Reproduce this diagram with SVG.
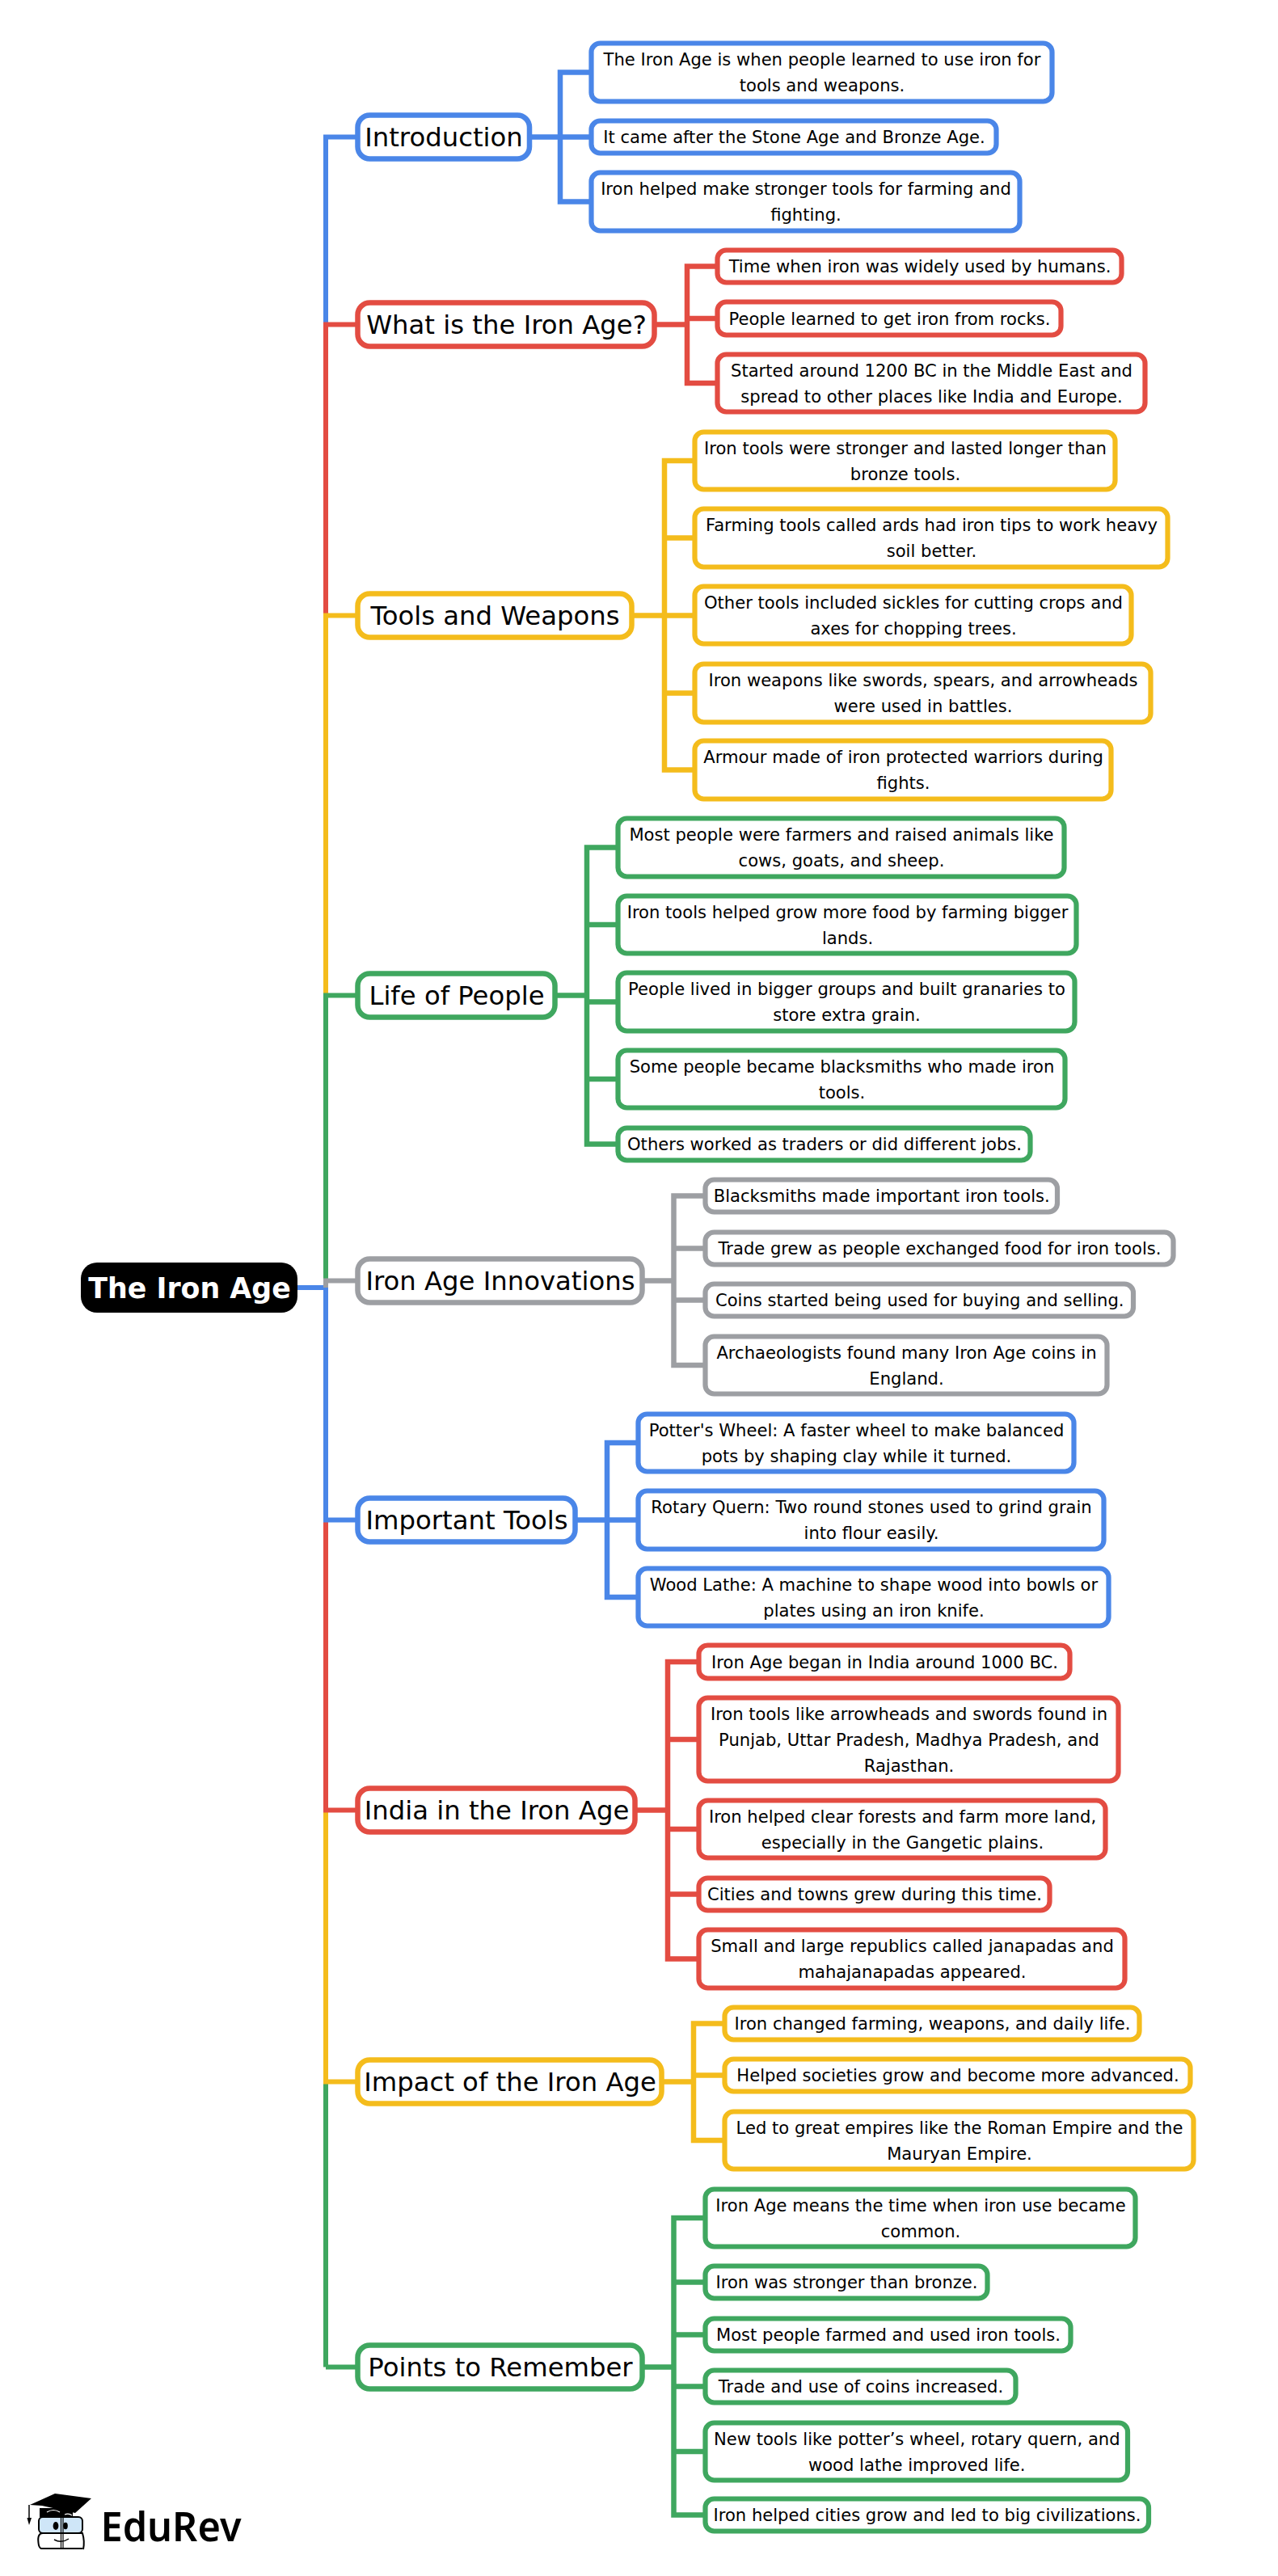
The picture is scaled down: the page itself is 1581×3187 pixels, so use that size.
<svg xmlns="http://www.w3.org/2000/svg" width="1581" height="3187" viewBox="0 0 1581 3187">
<style>
text{font-family:"DejaVu Sans",sans-serif;fill:#000;text-anchor:middle}
.leaf text{font-size:21.1px}
.topic text{font-size:32.3px}
.leaf rect{fill:#fff;stroke-width:6.2}
.topic rect{fill:#fff;stroke-width:6.5}
.c{fill:none;stroke-width:6.5}
.s{fill:none;stroke-width:6}
.b{stroke:#4a86e8}.r{stroke:#e34c42}.y{stroke:#f4bc1c}.g{stroke:#3fa75f}.k{stroke:#9d9fa3}
</style>
<rect width="1581" height="3187" fill="#fff"/>
<g id="connectors">
<path class="s b" d="M368 1593H403V169.5H441"/>
<path class="s r" d="M368 1593H403V401.5H441"/>
<path class="s y" d="M368 1593H403V761.5H441"/>
<path class="s g" d="M368 1593H403V1231.5H441"/>
<path class="s g" d="M403 2928.5V1593"/>
<path class="s g" d="M403 2928.5H441"/>
<path class="s y" d="M403 1593V2575.5H441"/>
<path class="s r" d="M403 1593V2239.5H441"/>
<path class="s b" d="M368 1593H403V1880.5H441"/>
<path class="s k" d="M403 1593V1584.5H441"/>
<path class="c b" d="M657 169.5H693V89.5H730M657 169.5H730M657 169.5H693V249.5H730"/>
<path class="c r" d="M812 401.5H850V329.5H886M812 401.5H850V394H886M812 401.5H850V474H886"/>
<path class="c y" d="M784 761.5H822V570H858M784 761.5H822V665.5H858M784 761.5H858M784 761.5H822V857.5H858M784 761.5H822V952.5H858"/>
<path class="c g" d="M689 1231.5H726V1048.5H763M689 1231.5H726V1144H763M689 1231.5H726V1239.5H763M689 1231.5H726V1335H763M689 1231.5H726V1415.5H763"/>
<path class="c k" d="M797 1584.5H833.5V1479.5H871M797 1584.5H833.5V1544.5H871M797 1584.5H833.5V1608.5H871M797 1584.5H833.5V1689H871"/>
<path class="c b" d="M714 1880.5H751V1785H788M714 1880.5H788M714 1880.5H751V1976H788"/>
<path class="c r" d="M788 2239.5H826V2056H863M788 2239.5H826V2152H863M788 2239.5H826V2263H863M788 2239.5H826V2343.5H863M788 2239.5H826V2423.5H863"/>
<path class="c y" d="M821 2575.5H858V2503.5H895M821 2575.5H858V2567.5H895M821 2575.5H858V2648H895"/>
<path class="c g" d="M797 2928.5H833.5V2744H871M797 2928.5H833.5V2823.5H871M797 2928.5H833.5V2888.5H871M797 2928.5H833.5V2952.5H871M797 2928.5H833.5V3033H871M797 2928.5H833.5V3111.5H871"/>
</g>
<g id="root"><rect x="100" y="1562" width="268" height="62" rx="20" fill="#000"/><text x="234.5" y="1606" font-size="34.8" font-weight="700" style="fill:#fff">The Iron Age</text></g>

<g id="introduction" class="topic"><rect class="b" x="442.5" y="142.5" width="212.5" height="54" rx="15"/><text x="549" y="180.5">Introduction</text></g>
<g id="n1-1" class="leaf"><rect class="b" x="731.5" y="53.5" width="570" height="72" rx="11"/><text x="1017" y="81">The Iron Age is when people learned to use iron for</text><text x="1017" y="113">tools and weapons.</text></g>
<g id="n1-2" class="leaf"><rect class="b" x="731.5" y="149.5" width="501" height="40" rx="11"/><text x="982.5" y="177">It came after the Stone Age and Bronze Age.</text></g>
<g id="n1-3" class="leaf"><rect class="b" x="731.5" y="213.5" width="530" height="72" rx="11"/><text x="997" y="241">Iron helped make stronger tools for farming and</text><text x="997" y="273">fighting.</text></g>

<g id="what" class="topic"><rect class="r" x="442.5" y="374.5" width="367" height="54" rx="15"/><text x="626.5" y="412.5">What is the Iron Age?</text></g>
<g id="n2-1" class="leaf"><rect class="r" x="887.5" y="309.5" width="500" height="40" rx="11"/><text x="1138" y="337">Time when iron was widely used by humans.</text></g>
<g id="n2-2" class="leaf"><rect class="r" x="887.5" y="373.5" width="425" height="41" rx="11"/><text x="1100.5" y="401.5">People learned to get iron from rocks.</text></g>
<g id="n2-3" class="leaf"><rect class="r" x="887.5" y="438.5" width="529" height="71" rx="11"/><text x="1152.5" y="465.5">Started around 1200 BC in the Middle East and</text><text x="1152.5" y="497.5">spread to other places like India and Europe.</text></g>

<g id="tools" class="topic"><rect class="y" x="442.5" y="734.5" width="339" height="54" rx="15"/><text x="612.5" y="772.5">Tools and Weapons</text></g>
<g id="n3-1" class="leaf"><rect class="y" x="859.5" y="534.5" width="520" height="71" rx="11"/><text x="1120" y="561.5">Iron tools were stronger and lasted longer than</text><text x="1120" y="593.5">bronze tools.</text></g>
<g id="n3-2" class="leaf"><rect class="y" x="859.5" y="629.5" width="585" height="72" rx="11"/><text x="1152.5" y="657">Farming tools called ards had iron tips to work heavy</text><text x="1152.5" y="689">soil better.</text></g>
<g id="n3-3" class="leaf"><rect class="y" x="859.5" y="725.5" width="540" height="71" rx="11"/><text x="1130" y="752.5">Other tools included sickles for cutting crops and</text><text x="1130" y="784.5">axes for chopping trees.</text></g>
<g id="n3-4" class="leaf"><rect class="y" x="859.5" y="821.5" width="564" height="72" rx="11"/><text x="1142" y="849">Iron weapons like swords, spears, and arrowheads</text><text x="1142" y="881">were used in battles.</text></g>
<g id="n3-5" class="leaf"><rect class="y" x="859.5" y="916.5" width="515" height="72" rx="11"/><text x="1117.5" y="944">Armour made of iron protected warriors during</text><text x="1117.5" y="976">fights.</text></g>

<g id="life" class="topic"><rect class="g" x="442.5" y="1204.5" width="244" height="54" rx="15"/><text x="565" y="1242.5">Life of People</text></g>
<g id="n4-1" class="leaf"><rect class="g" x="764.5" y="1012.5" width="552" height="72" rx="11"/><text x="1041" y="1040">Most people were farmers and raised animals like</text><text x="1041" y="1072">cows, goats, and sheep.</text></g>
<g id="n4-2" class="leaf"><rect class="g" x="764.5" y="1108.5" width="567" height="71" rx="11"/><text x="1048.5" y="1135.5">Iron tools helped grow more food by farming bigger</text><text x="1048.5" y="1167.5">lands.</text></g>
<g id="n4-3" class="leaf"><rect class="g" x="764.5" y="1203.5" width="565" height="72" rx="11"/><text x="1047.5" y="1231">People lived in bigger groups and built granaries to</text><text x="1047.5" y="1263">store extra grain.</text></g>
<g id="n4-4" class="leaf"><rect class="g" x="764.5" y="1299.5" width="553" height="71" rx="11"/><text x="1041.5" y="1326.5">Some people became blacksmiths who made iron</text><text x="1041.5" y="1358.5">tools.</text></g>
<g id="n4-5" class="leaf"><rect class="g" x="764.5" y="1395.5" width="510" height="40" rx="11"/><text x="1020" y="1423">Others worked as traders or did different jobs.</text></g>

<g id="innovations" class="topic"><rect class="k" x="442.5" y="1557.5" width="352" height="54" rx="15"/><text x="619" y="1595.5">Iron Age Innovations</text></g>
<g id="n5-1" class="leaf"><rect class="k" x="872.5" y="1459.5" width="435.5" height="40" rx="11"/><text x="1090.75" y="1487">Blacksmiths made important iron tools.</text></g>
<g id="n5-2" class="leaf"><rect class="k" x="872.5" y="1524.5" width="579" height="40" rx="11"/><text x="1162.5" y="1552">Trade grew as people exchanged food for iron tools.</text></g>
<g id="n5-3" class="leaf"><rect class="k" x="872.5" y="1588.5" width="529.5" height="40" rx="11"/><text x="1137.75" y="1616">Coins started being used for buying and selling.</text></g>
<g id="n5-4" class="leaf"><rect class="k" x="872.5" y="1653.5" width="497" height="71" rx="11"/><text x="1121.5" y="1680.5">Archaeologists found many Iron Age coins in</text><text x="1121.5" y="1712.5">England.</text></g>

<g id="important" class="topic"><rect class="b" x="442.5" y="1853.5" width="269" height="54" rx="15"/><text x="577.5" y="1891.5">Important Tools</text></g>
<g id="n6-1" class="leaf"><rect class="b" x="789.5" y="1749.5" width="539" height="71" rx="11"/><text x="1059.5" y="1776.5">Potter's Wheel: A faster wheel to make balanced</text><text x="1059.5" y="1808.5">pots by shaping clay while it turned.</text></g>
<g id="n6-2" class="leaf"><rect class="b" x="789.5" y="1844.5" width="576" height="72" rx="11"/><text x="1078" y="1872">Rotary Quern: Two round stones used to grind grain</text><text x="1078" y="1904">into flour easily.</text></g>
<g id="n6-3" class="leaf"><rect class="b" x="789.5" y="1940.5" width="582" height="71" rx="11"/><text x="1081" y="1967.5">Wood Lathe: A machine to shape wood into bowls or</text><text x="1081" y="1999.5">plates using an iron knife.</text></g>

<g id="india" class="topic"><rect class="r" x="442.5" y="2212.5" width="343" height="54" rx="15"/><text x="614.5" y="2250.5">India in the Iron Age</text></g>
<g id="n7-1" class="leaf"><rect class="r" x="864.5" y="2035.5" width="459" height="41" rx="11"/><text x="1094.5" y="2063.5">Iron Age began in India around 1000 BC.</text></g>
<g id="n7-2" class="leaf"><rect class="r" x="864.5" y="2100.5" width="519" height="103" rx="11"/><text x="1124.5" y="2127.5">Iron tools like arrowheads and swords found in</text><text x="1124.5" y="2159.5">Punjab, Uttar Pradesh, Madhya Pradesh, and</text><text x="1124.5" y="2191.5">Rajasthan.</text></g>
<g id="n7-3" class="leaf"><rect class="r" x="864.5" y="2227.5" width="503" height="71" rx="11"/><text x="1116.5" y="2254.5">Iron helped clear forests and farm more land,</text><text x="1116.5" y="2286.5">especially in the Gangetic plains.</text></g>
<g id="n7-4" class="leaf"><rect class="r" x="864.5" y="2323.5" width="434" height="40" rx="11"/><text x="1082" y="2351">Cities and towns grew during this time.</text></g>
<g id="n7-5" class="leaf"><rect class="r" x="864.5" y="2387.5" width="527" height="72" rx="11"/><text x="1128.5" y="2415">Small and large republics called janapadas and</text><text x="1128.5" y="2447">mahajanapadas appeared.</text></g>

<g id="impact" class="topic"><rect class="y" x="442.5" y="2548.5" width="376" height="54" rx="15"/><text x="631" y="2586.5">Impact of the Iron Age</text></g>
<g id="n8-1" class="leaf"><rect class="y" x="896.5" y="2483.5" width="513" height="40" rx="11"/><text x="1153.5" y="2511">Iron changed farming, weapons, and daily life.</text></g>
<g id="n8-2" class="leaf"><rect class="y" x="896.5" y="2547.5" width="576" height="40" rx="11"/><text x="1185" y="2575">Helped societies grow and become more advanced.</text></g>
<g id="n8-3" class="leaf"><rect class="y" x="896.5" y="2612.5" width="580" height="71" rx="11"/><text x="1187" y="2639.5">Led to great empires like the Roman Empire and the</text><text x="1187" y="2671.5">Mauryan Empire.</text></g>

<g id="points" class="topic"><rect class="g" x="442.5" y="2901.5" width="352" height="54" rx="15"/><text x="619" y="2939.5">Points to Remember</text></g>
<g id="n9-1" class="leaf"><rect class="g" x="872.5" y="2708.5" width="532" height="71" rx="11"/><text x="1139" y="2735.5">Iron Age means the time when iron use became</text><text x="1139" y="2767.5">common.</text></g>
<g id="n9-2" class="leaf"><rect class="g" x="872.5" y="2803.5" width="349" height="40" rx="11"/><text x="1047.5" y="2831">Iron was stronger than bronze.</text></g>
<g id="n9-3" class="leaf"><rect class="g" x="872.5" y="2868.5" width="452" height="40" rx="11"/><text x="1099" y="2896">Most people farmed and used iron tools.</text></g>
<g id="n9-4" class="leaf"><rect class="g" x="872.5" y="2932.5" width="384" height="40" rx="11"/><text x="1065" y="2960">Trade and use of coins increased.</text></g>
<g id="n9-5" class="leaf"><rect class="g" x="872.5" y="2997.5" width="522.5" height="71" rx="11"/><text x="1134.25" y="3024.5">New tools like potter’s wheel, rotary quern, and</text><text x="1134.25" y="3056.5">wood lathe improved life.</text></g>
<g id="n9-6" class="leaf"><rect class="g" x="872.5" y="3091.5" width="548.5" height="40" rx="11"/><text x="1147" y="3119">Iron helped cities grow and led to big civilizations.</text></g>

<g id="logo">
<path d="M49 3103H90V3114H49Z" fill="#000"/>
<path d="M37 3099L68 3085L113 3091L93 3109L52 3100Z" fill="#000"/>
<path d="M36 3099V3116" stroke="#000" stroke-width="1.5" fill="none"/>
<path d="M33.5 3115H39L36 3124Z" fill="#000"/>
<path d="M58 3108Q66 3103 74 3108M80 3111Q85 3109 89 3112" stroke="#fff" stroke-width="1.2" fill="none"/>
<rect x="48" y="3114" width="54" height="20" rx="5" fill="#cfe6f8" stroke="#000" stroke-width="2"/>
<path d="M103 3154Q105 3144 102 3134H53Q46 3134 47.5 3146Q48 3152 51 3153H102" fill="#fff" stroke="#000" stroke-width="2"/>
<path d="M75.5 3114V3154M78 3114V3154" stroke="#000" stroke-width="1.2" fill="none"/>
<ellipse cx="69" cy="3125" rx="3.4" ry="5" fill="#000"/>
<ellipse cx="81" cy="3125" rx="2.8" ry="4.2" fill="#000"/>
<path d="M67 3142Q76 3147 85 3141" stroke="#000" stroke-width="1.5" fill="none"/>
<text x="124.5" y="3144" font-size="50" font-weight="600" textLength="174" lengthAdjust="spacingAndGlyphs" style="font-family:'Noto Sans',sans-serif;text-anchor:start">EduRev</text>
</g>
</svg>
